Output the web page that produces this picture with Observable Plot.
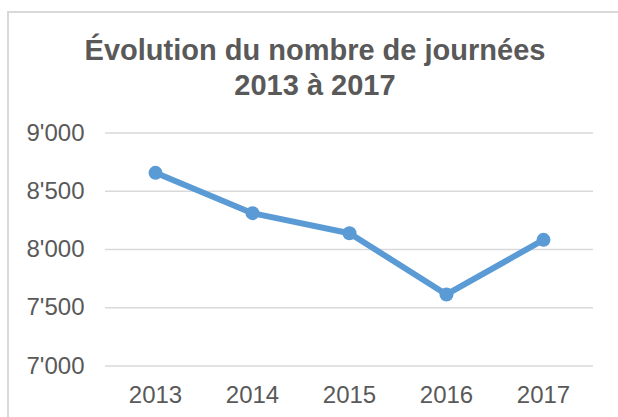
<!DOCTYPE html>
<html><head><meta charset="utf-8">
<script src="https://cdn.jsdelivr.net/npm/d3@7"></script>
<script src="https://cdn.jsdelivr.net/npm/@observablehq/plot@0.6"></script>
<style>
body{margin:0;background:#fff;width:618px;height:417px;overflow:hidden;position:relative;font-family:"Liberation Sans",Arial,sans-serif;}
#frame{position:absolute;left:7px;top:11px;width:700px;height:500px;border-top:2px solid #d9d9d9;border-left:2px solid #d9d9d9;}
#title{position:absolute;left:0;width:630px;top:32.5px;text-align:center;font-weight:bold;font-size:29px;line-height:35px;color:#595959;}
#chart{position:absolute;left:0;top:0;}
</style></head>
<body>
<div id="frame"></div>
<div id="chart"></div>
<div id="title">Évolution du nombre de journées<br>2013 à 2017</div>
<script>
const years = ["2013", "2014", "2015", "2016", "2017"];
const values = [8658, 8312, 8140, 7614, 8083];
const yTicks = [7000, 7500, 8000, 8500, 9000];

const data = years.map((y, i) => ({year: y, value: values[i]}));
const fmt = d3.formatLocale({thousands: "'", grouping: [3], decimal: ".", currency: ["", ""]}).format(",");

const chart = Plot.plot({
  width: 618, height: 417,
  marginLeft: 105, marginRight: 25, marginTop: 132.5, marginBottom: 51.5,
  style: {fontFamily: "Liberation Sans, Arial, sans-serif", fontSize: "24px", color: "#595959", background: "transparent", overflow: "visible"},
  x: {type: "point", domain: years, padding: 0.5, label: null},
  y: {domain: [7000, 9000], label: null},
  marks: [
    Plot.ruleY(yTicks, {stroke: "#d9d9d9", strokeWidth: 1.5}),
    Plot.axisY(yTicks, {tickSize: 0, tickPadding: 21, tickFormat: fmt, fill: "#595959", fontSize: 24, label: null}),
    Plot.axisX({tickSize: 0, tickPadding: 19.5, fill: "#595959", fontSize: 24, label: null}),
    Plot.line(data, {x: "year", y: "value", stroke: "#5B9BD5", strokeWidth: 6}),
    Plot.dot(data, {x: "year", y: "value", r: 7, fill: "#5B9BD5"})
  ]
});
document.getElementById("chart").appendChild(chart);
</script>
</body></html>
